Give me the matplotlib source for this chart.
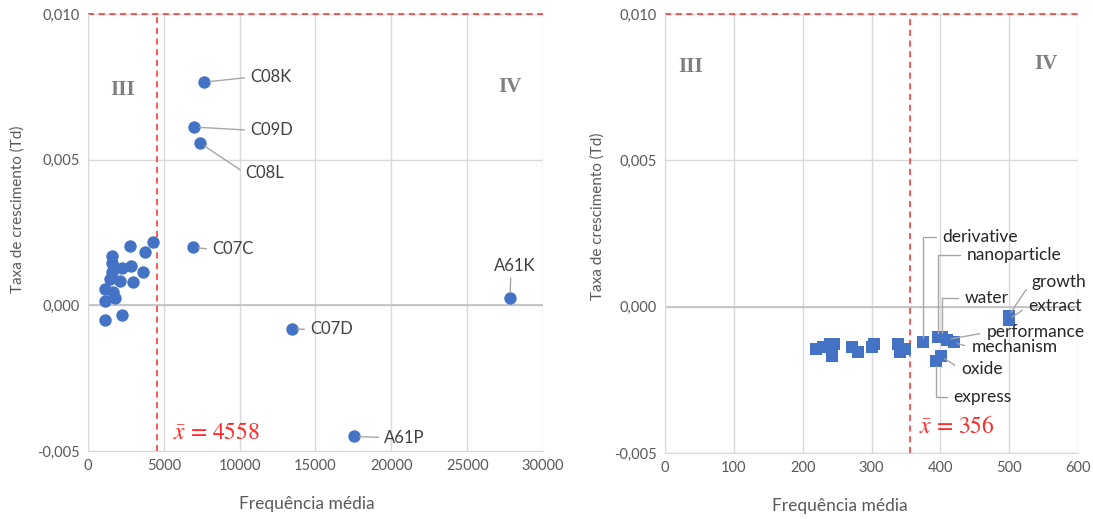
import matplotlib.pyplot as plt
from matplotlib.ticker import FuncFormatter

plt.rcParams['font.family'] = ['Lato', 'DejaVu Sans']
plt.rcParams['mathtext.fontset'] = 'stix'

# left panel: CPC classes
cls_x = [2769, 4286, 3758, 1582, 1582, 2242, 2835, 3626, 1582, 1450, 2110, 2967,
         1121, 1648, 1780, 1121, 1121, 2242,
         7648, 6989, 7384, 6923, 13450, 17537, 27823]
cls_y = [0.00202, 0.00216, 0.00182, 0.00168, 0.00147, 0.00127, 0.00134, 0.00113,
         0.00113, 0.00092, 0.00082, 0.00079, 0.00055, 0.00045, 0.00024, 0.00014,
         -0.00051, -0.00034,
         0.00766, 0.00612, 0.00557, 0.00199, -0.00082, -0.0045, 0.00024]
cls_names = ['C08K', 'C09D', 'C08L', 'C07C', 'C07D', 'A61P', 'A61K']
cls_lab_x = [10681, 10681, 10351, 8175, 14637, 19515, 28153]
cls_lab_y = [0.00783, 0.00601, 0.00454, 0.00192, -0.00082, -0.00454, 0.00108]
cls_mean = 4558

# right panel: terms
term_x = [220, 229, 239, 246, 243, 271, 280, 300, 304, 338, 348, 341,
          374, 396, 403, 410, 419, 401, 394, 499, 499]
term_y = [-0.00146, -0.00136, -0.00129, -0.00129, -0.00170, -0.00136, -0.00156,
          -0.00139, -0.00126, -0.00129, -0.00146, -0.00153,
          -0.00122, -0.00105, -0.00105, -0.00112, -0.00122, -0.00170, -0.00187,
          -0.00031, -0.00044]
term_names = ['derivative', 'nanoparticle', 'water', 'performance', 'mechanism',
              'oxide', 'express', 'growth', 'extract']
term_lab_x = [403, 438, 436, 467, 445, 430, 419, 532, 528]
term_lab_y = [0.00238, 0.00177, 0.00031, -0.00088, -0.00139, -0.00214, -0.00310,
              0.00085, 0.00003]
term_elbow = [True, True, True, False, False, False, True, False, False]
term_mean = 356

blue = '#4472C4'
grid = '#d9d9d9'
txt = '#404040'
lead = '#a6a6a6'
red = '#ff2a2a'

fig = plt.figure(figsize=(10.93, 5.19), dpi=100)
ax1 = fig.add_axes([0.0805, 0.131, 0.4163, 0.842])
ax2 = fig.add_axes([0.6084, 0.127, 0.378, 0.846])


def style(ax, xmax, xstep):
    ax.set_ylim(-0.005, 0.010)
    ax.set_xlim(0, xmax)
    ax.set_xticks(range(0, xmax + 1, xstep))
    ax.set_yticks([-0.005, 0.0, 0.005, 0.010])
    ax.yaxis.set_major_formatter(FuncFormatter(lambda v, p: ('%.3f' % v).replace('.', ',')))
    ax.grid(True, color=grid, lw=1, zorder=0)
    ax.set_axisbelow(True)
    for s in ['top', 'right']:
        ax.spines[s].set_visible(False)
    for s in ['left', 'bottom']:
        ax.spines[s].set_color(grid)
    ax.axhline(0, color='#bfbfbf', lw=1.2, zorder=1)
    ax.axhline(0.010, color=red, lw=1.1, ls=(0, (4, 3)), zorder=2, clip_on=False)
    ax.tick_params(length=0, colors='#595959', labelsize=10.5, pad=6)
    ax.set_xlabel('Frequência média', color='#595959', fontsize=12.5)
    ax.set_ylabel('Taxa de crescimento (Td)', color='#595959', fontsize=11)


style(ax1, 30000, 5000)
style(ax2, 600, 100)
ax1.xaxis.set_label_coords(0.481, -0.103)
ax1.yaxis.set_label_coords(-0.138, 0.554)
ax2.xaxis.set_label_coords(0.424, -0.102)
ax2.yaxis.set_label_coords(-0.145, 0.54)

# left
ax1.axvline(cls_mean, color=red, lw=1.1, ls=(0, (4, 3)), zorder=2)
ax1.scatter(cls_x, cls_y, s=80, color=blue, zorder=3, linewidths=0)
named = cls_x[-7:], cls_y[-7:]
for i, name in enumerate(cls_names):
    px, py = named[0][i], named[1][i]
    if name == 'A61K':
        ax1.annotate(name, (px, py), xytext=(cls_lab_x[i], cls_lab_y[i]),
                     ha='center', va='bottom', color=txt, fontsize=12,
                     arrowprops=dict(arrowstyle='-', color=lead, lw=1,
                                     relpos=(0.4, 0), shrinkA=1, shrinkB=4))
    else:
        ax1.annotate(name, (px, py), xytext=(cls_lab_x[i], cls_lab_y[i]),
                     ha='left', va='center', color=txt, fontsize=12,
                     arrowprops=dict(arrowstyle='-', color=lead, lw=1,
                                     relpos=(0, 0.5), shrinkA=2, shrinkB=4))
ax1.text(5600, -0.0044, r'$\bar{x}$ = 4558', color=red, fontsize=17,
         family='STIXGeneral', va='center')
ax1.text(2300, 0.0074, 'III', color='#7f7f7f', fontsize=15, fontweight='bold',
         family='Liberation Serif', ha='center', va='center')
ax1.text(27800, 0.0075, 'IV', color='#7f7f7f', fontsize=15, fontweight='bold',
         family='Liberation Serif', ha='center', va='center')

# right
ax2.axvline(term_mean, color=red, lw=1.1, ls=(0, (4, 3)), zorder=2)
ax2.scatter(term_x, term_y, s=85, marker='s', color=blue, zorder=3, linewidths=0)
pts = {'derivative': 12, 'nanoparticle': 13, 'water': 14, 'performance': 15,
       'mechanism': 16, 'oxide': 17, 'express': 18, 'growth': 19, 'extract': 20}
for i, name in enumerate(term_names):
    k = pts[name]
    px, py = term_x[k], term_y[k]
    if term_elbow[i]:
        cs = 'angle,angleA=0,angleB=90,rad=0'
    else:
        cs = 'arc3'
    ax2.annotate(name, (px, py), xytext=(term_lab_x[i], term_lab_y[i]),
                 ha='left', va='center', color='#262626', fontsize=12.5,
                 arrowprops=dict(arrowstyle='-', color=lead, lw=1,
                                 relpos=(0, 0.5), shrinkA=3, shrinkB=3,
                                 connectionstyle=cs))
ax2.text(369, -0.0041, r'$\bar{x}$ = 356', color=red, fontsize=17,
         family='STIXGeneral', va='center')
ax2.text(37, 0.0082, 'III', color='#7f7f7f', fontsize=15, fontweight='bold',
         family='Liberation Serif', ha='center', va='center')
ax2.text(553, 0.0083, 'IV', color='#7f7f7f', fontsize=15, fontweight='bold',
         family='Liberation Serif', ha='center', va='center')

plt.savefig('out.png', dpi=100)
